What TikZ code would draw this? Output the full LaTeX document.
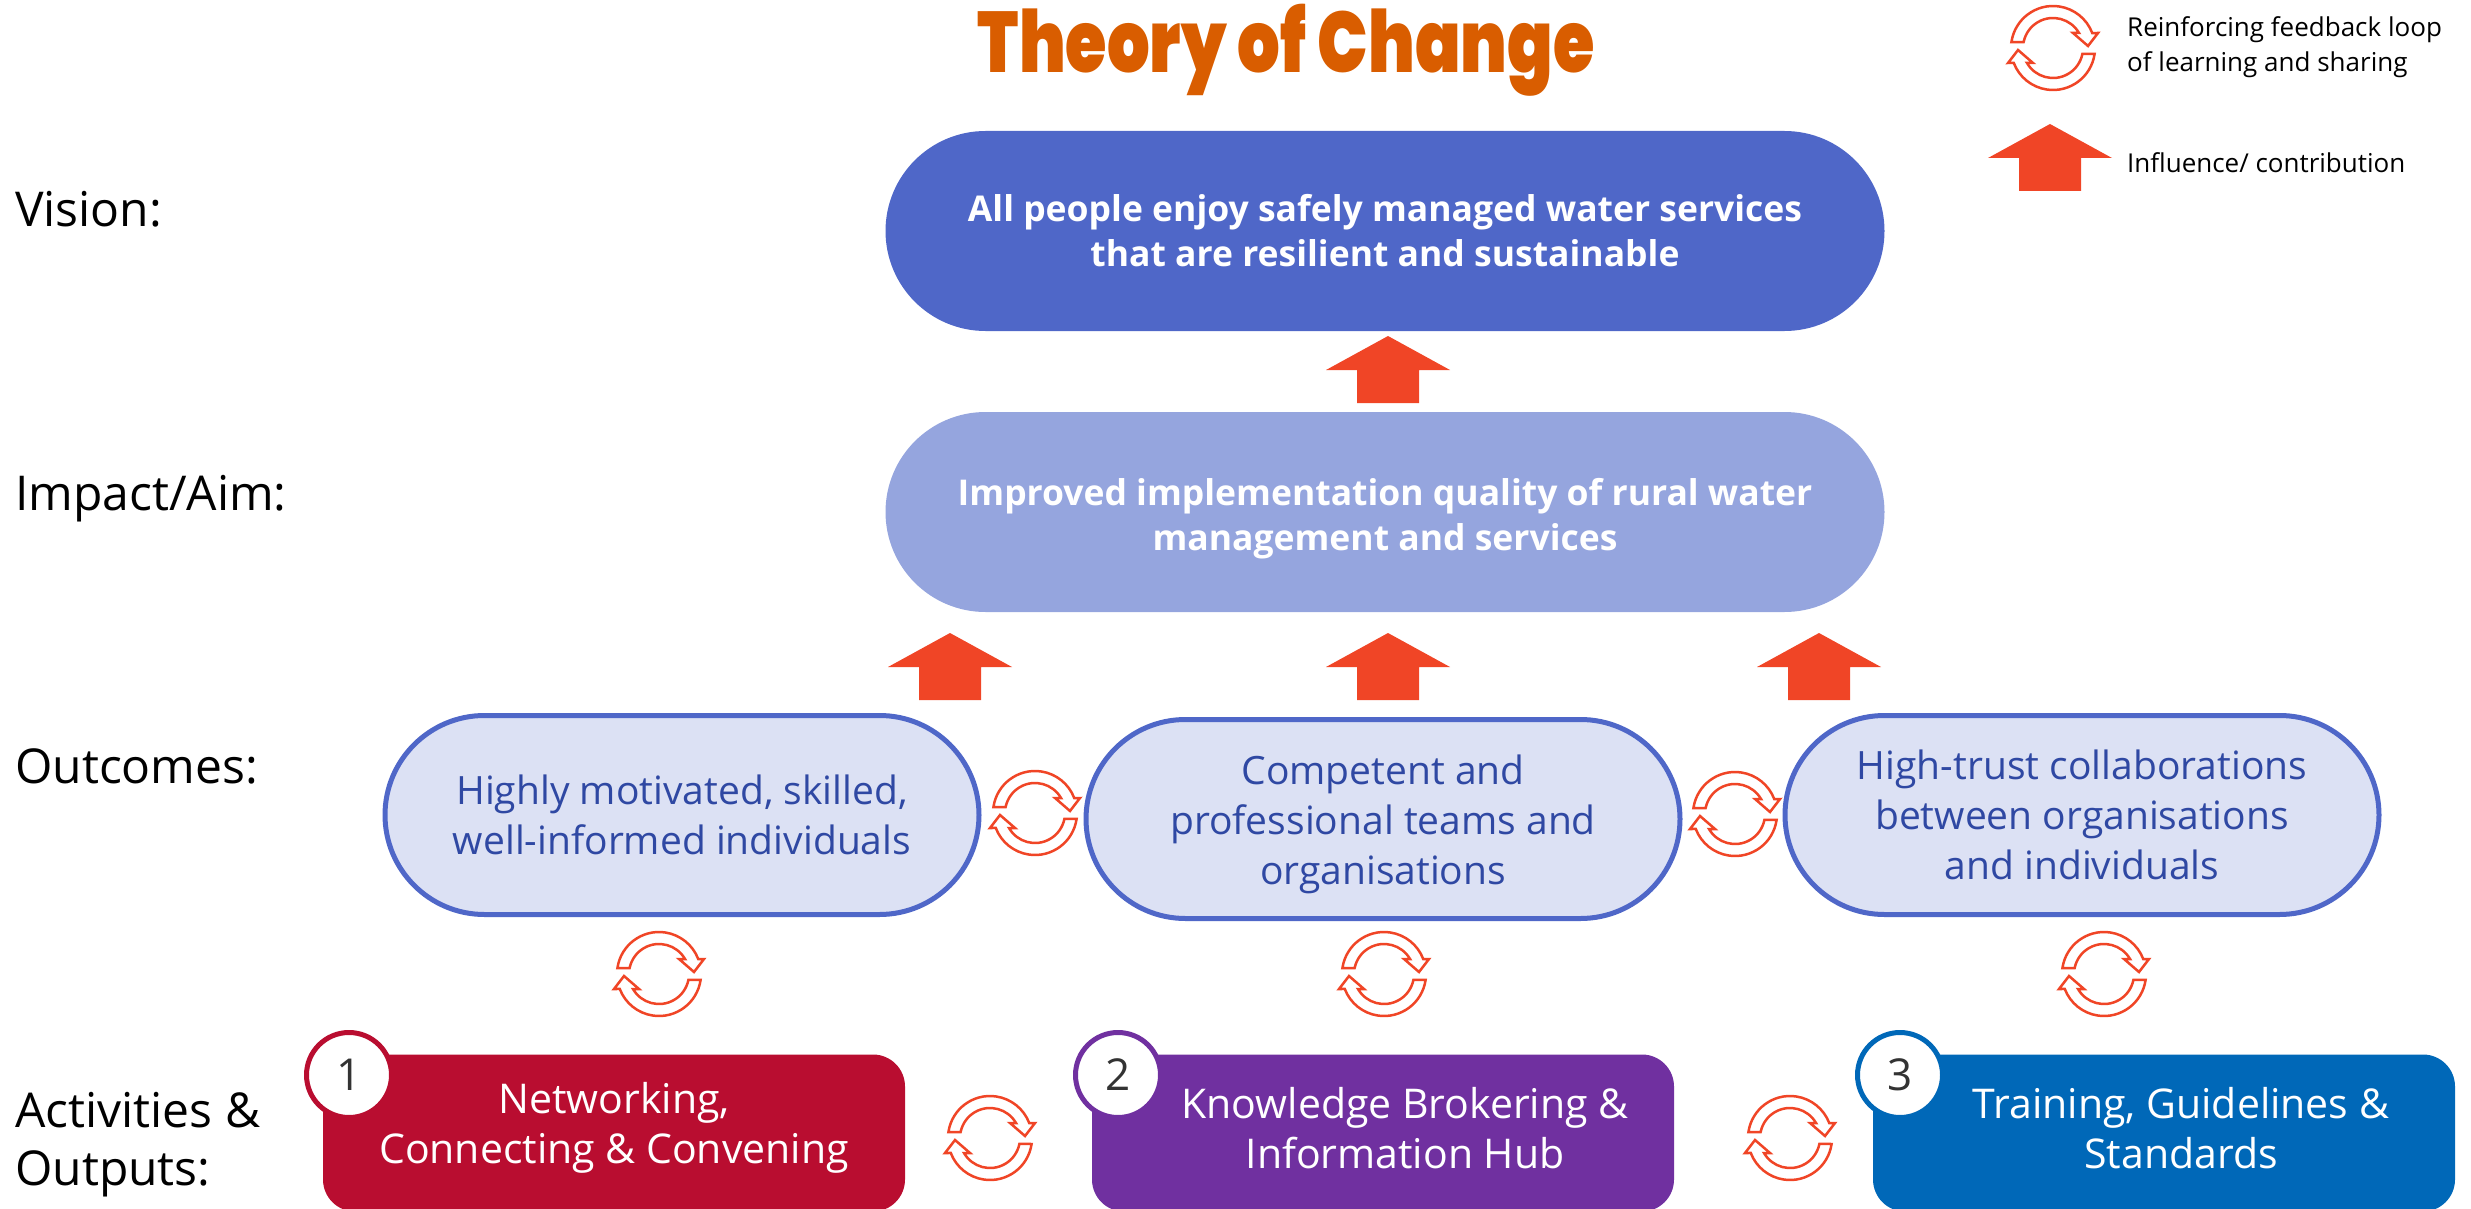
\documentclass[tikz,border=0pt]{standalone}
\usepackage{fontspec}
\setmainfont{Open Sans}
\IfFontExistsTF{Poppins Black}
  {\newfontfamily\titlefont{Poppins Black}}
  {\newfontfamily\titlefont{Poppins}[UprightFont=* Bold]}
\usetikzlibrary{shapes.misc}

\definecolor{visionblue}{RGB}{79,103,200}
\definecolor{impactblue}{RGB}{149,165,222}
\definecolor{outcomefill}{RGB}{220,225,244}
\definecolor{outcometext}{RGB}{47,72,163}
\definecolor{arrowred}{RGB}{240,69,38}
\definecolor{titleorange}{RGB}{217,93,0}
\definecolor{actred}{RGB}{185,13,48}
\definecolor{actpurple}{RGB}{112,48,160}
\definecolor{actblue}{RGB}{0,104,184}
\definecolor{numgray}{RGB}{51,51,51}

% invisible strut that lifts the first line of a node text
\newcommand{\upstrut}[1]{\rule{0pt}{#1pt}}

\tikzset{
  rowlabel/.style={anchor=base west, inner sep=0pt, font=\fontsize{48}{58}\selectfont},
  legendtext/.style={anchor=base west, inner sep=0pt, font=\fontsize{26}{35}\selectfont},
  topbox/.style={rounded rectangle, minimum width=999pt, minimum height=200pt, inner sep=0pt,
    text=white, align=center, font=\fontsize{35.5}{45}\selectfont\bfseries},
  outbox/.style={rounded rectangle, draw=visionblue, line width=5pt, fill=outcomefill,
    minimum width=594pt, minimum height=199pt, inner sep=0pt,
    text=outcometext, align=center, font=\fontsize{39}{50}\selectfont},
  actbox/.style={rectangle, rounded corners=32pt, minimum width=582pt, minimum height=157pt,
    inner sep=0pt},
  acttext/.style={inner sep=0pt, text=white, align=center, font=\fontsize{41}{50}\selectfont},
  numcircle/.style={circle, draw=#1, fill=white, line width=5pt, minimum size=85pt,
    inner sep=0pt, text=numgray, font=\fontsize{44}{44}\selectfont},
  loopline/.style={draw=arrowred, fill=white, line width=2.5pt, line join=miter},
  loopicon/.pic={
    \foreach \turn in {0,180}{
      \path[loopline, rotate=\turn]
        (171.8:42) arc[start angle=171.8, end angle=20.9, radius=42]
        -- (45,15) -- (35,2) -- (20,15) -- (26,15)
        arc[start angle=30, end angle=168.5, radius=30] -- cycle;
    }
  },
  uparrow/.pic={
    \fill[arrowred] (0,34) -- (62,0) -- (31,0) -- (31,-33) -- (-31,-33)
      -- (-31,0) -- (-62,0) -- cycle;
  }
}

\begin{document}
\begin{tikzpicture}[x=1pt, y=1pt]
\useasboundingbox (0,0) rectangle (2471,-1209);

% title and legend
\node[anchor=base, inner sep=0pt, text=titleorange, font=\titlefont\fontsize{86}{86}\selectfont] (title) at (1286,-73) {\scalebox{0.78}[1]{Theory of Change}};
\pic at (2053,-48) {loopicon};
\node[legendtext] (legloop1) at (2127,-37) {Reinforcing feedback loop};
\node[legendtext] (legloop2) at (2127,-72) {of learning and sharing};
\pic at (2050,-158) {uparrow};
\node[legendtext] (legarrow) at (2127,-173) {Influence/ contribution};

% row labels
\node[rowlabel] (lvision) at (15,-226) {Vision:};
\node[rowlabel] (limpact) at (15,-510) {Impact/Aim:};
\node[rowlabel] (loutcomes) at (15,-783) {Outcomes:};
\node[rowlabel] (lactivities) at (15,-1127) {Activities \&};
\node[rowlabel] (loutputs) at (15,-1185) {Outputs:};

% vision and impact
\node[topbox, fill=visionblue] (vision) at (1385,-231) {All people enjoy safely managed water services\\that are resilient and sustainable};
\node[topbox, fill=impactblue] (impact) at (1385,-512) {\upstrut{40}Improved implementation quality of rural water\\management and services};

% outcomes
\node[outbox] (skilled) at (682,-815) {Highly motivated, skilled,\\well-informed individuals};
\node[outbox] (teams) at (1383,-819) {\upstrut{40}Competent and\\professional teams and\\organisations};
\node[outbox] (collab) at (2082,-815) {High-trust collaborations\\between organisations\\and individuals};

% activities & outputs
\node[actbox, fill=actred] (networking) at (614,-1133) {};
\node[actbox, fill=actpurple] (brokering) at (1383,-1133) {};
\node[actbox, fill=actblue] (training) at (2164,-1133) {};
\node[acttext] (networkingtext) at ([yshift=5pt]networking.center) {Networking,\\Connecting \& Convening};
\node[acttext] (brokeringtext) at ([xshift=22pt, yshift=5pt]brokering.center) {Knowledge Brokering \&\\Information Hub};
\node[acttext] (trainingtext) at ([xshift=17pt, yshift=5pt]training.center) {Training, Guidelines \&\\Standards};
\node[numcircle=actred] (num1) at (349,-1075) {1};
\node[numcircle=actpurple] (num2) at (1118,-1075) {2};
\node[numcircle=actblue] (num3) at (1900,-1075) {3};

% influence arrows
\pic at (1388,-370) {uparrow};
\pic at (950,-667) {uparrow};
\pic at (1388,-667) {uparrow};
\pic at (1819,-667) {uparrow};

% feedback loops
\pic at (1035,-813) {loopicon};
\pic at (1735,-814) {loopicon};
\pic at (659,-974) {loopicon};
\pic at (1384,-974) {loopicon};
\pic at (2104,-974) {loopicon};
\pic at (990,-1138) {loopicon};
\pic at (1790,-1138) {loopicon};
\end{tikzpicture}
\end{document}
